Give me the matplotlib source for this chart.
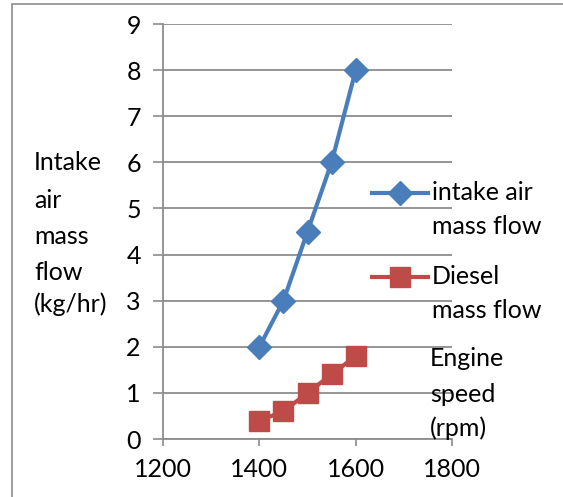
import matplotlib.pyplot as plt
from matplotlib.lines import Line2D
from matplotlib.patches import Rectangle

plt.rcParams['font.family'] = ['Lato', 'DejaVu Sans']

engine_speed = [1400, 1450, 1500, 1550, 1600]
intake_air = [2, 3, 4.5, 6, 8]
diesel = [0.4, 0.6, 1.0, 1.4, 1.8]

blue = '#4A7EBB'
red = '#BE4B48'
grid = '#8C8C8C'
fs = 18

fig = plt.figure(figsize=(5.63, 4.97), dpi=100)
ax = fig.add_axes([0.2895, 0.1167, 0.5135, 0.835])

ax.plot(engine_speed, intake_air, color=blue, lw=3, marker='D', markersize=12,
        clip_on=False, zorder=3)
ax.plot(engine_speed, diesel, color=red, lw=3, marker='s', markersize=14.5,
        clip_on=False, zorder=3)

ax.set_xlim(1200, 1800)
ax.set_ylim(0, 9)
ax.set_xticks([1200, 1400, 1600, 1800])
ax.set_yticks(range(10))
ax.tick_params(labelsize=fs, colors='black')
ax.tick_params(axis='x', length=5, color=grid, width=1.2, pad=9)
ax.tick_params(axis='y', length=7, color=grid, width=1.2, pad=9)
ax.yaxis.grid(True, color=grid, lw=1.3)
ax.set_axisbelow(True)
for s in ['top', 'right']:
    ax.spines[s].set_visible(False)
for s in ['left', 'bottom']:
    ax.spines[s].set_color(grid)
    ax.spines[s].set_linewidth(1.3)


def stacked(x, ys, lines):
    for y, t in zip(ys, lines):
        fig.text(x / 563, 1 - y / 497, t, fontsize=fs, ha='left', va='center')


# y title, Excel style stacked text
stacked(34, [163, 200, 237, 272, 304], ['Intake', 'air', 'mass', 'flow', '(kg/hr)'])

# x title placed at right
stacked(430, [358, 394, 428], ['Engine', 'speed', '(rpm)'])

# legend
entries = [(['intake air', 'mass flow'], blue, 'D', 12, 193),
           (['Diesel', 'mass flow'], red, 's', 14.5, 277)]
for label, c, m, ms, y in entries:
    yf = 1 - y / 497
    fig.add_artist(Line2D([372 / 563, 428 / 563], [yf, yf], color=c, lw=3,
                          transform=fig.transFigure))
    fig.add_artist(Line2D([400 / 563], [yf], color=c, marker=m, markersize=ms,
                          transform=fig.transFigure))
    stacked(432, [y, y + 33], label)

# chart border
fig.add_artist(Rectangle((12 / 563, -0.1), 1.2, 1.1 - 4 / 497, fill=False,
                         edgecolor=grid, lw=1.2, transform=fig.transFigure))

fig.savefig('out.png', dpi=100)
